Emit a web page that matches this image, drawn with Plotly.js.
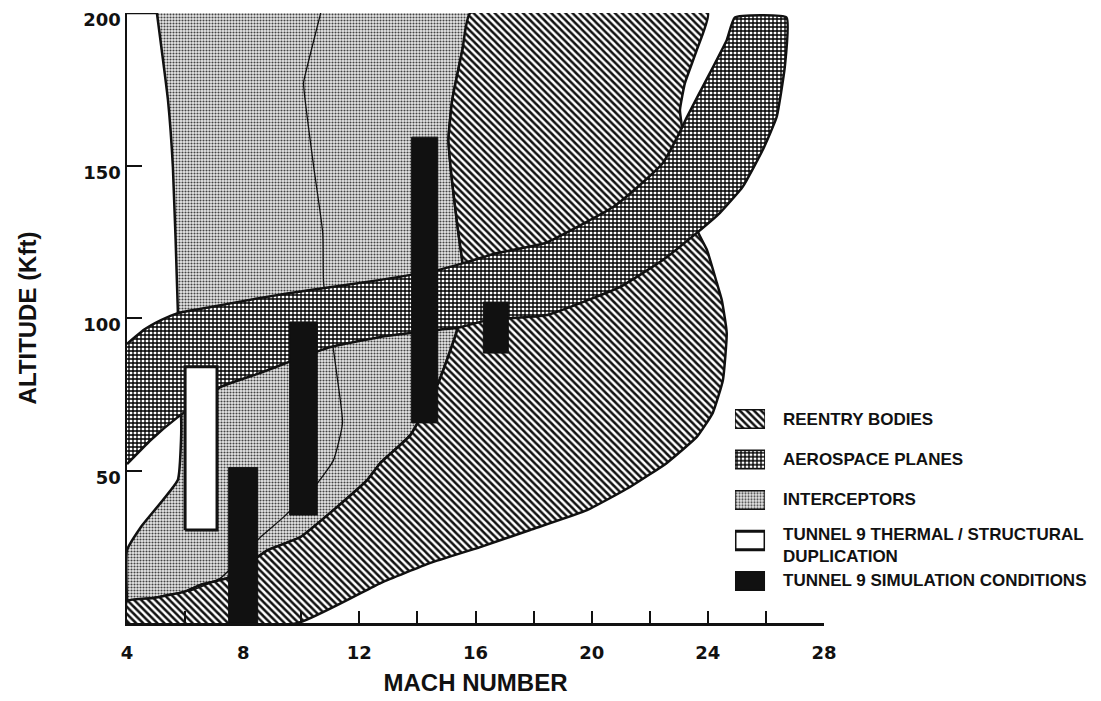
<!DOCTYPE html>
<html>
<head>
<meta charset="utf-8">
<script src="https://cdn.plot.ly/plotly-3.0.1.min.js"></script>
<style>html,body{margin:0;padding:0;background:#fff}#chart{width:1101px;height:701px}</style>
</head>
<body>
<div id="chart"></div>
<script>
// ---- DATA (Mach number, altitude in Kft) ----
// Boundary shared by the interceptors (left) and reentry bodies (right), top to bottom
const splitMach = [15.82, 15.55, 15.20, 15.07, 15.20, 15.41, 15.55, 15.48, 15.37, 14.69, 13.76, 12.73, 12.28, 11.11, 9.98, 8.85, 8.36, 7.47, 6.54, 5.96, 4.93, 4.0];
const splitAlt  = [200, 187.9, 171.5, 158.4, 144.3, 127.9, 118.0, 105.9, 96.1, 78.0, 61.6, 52.5, 46.9, 37.0, 28.2, 23.9, 20.7, 14.8, 12.5, 10.2, 8.2, 7.2];

// Left edge of the interceptors region, bottom to top
const interceptorLeftMach = [4.0, 4.0, 4.48, 5.75, 5.86, 5.86, 5.75, 5.75, 5.58, 5.41, 5.03];
const interceptorLeftAlt  = [7.2, 23.9, 31.5, 46.9, 60.0, 68.2, 79.7, 102.6, 149.5, 171.5, 200];

// Thin divider line inside the interceptors region
const dividerMach = [10.67, 10.15, 10.08, 10.43, 10.74, 10.77, 11.11, 11.25, 11.42, 11.11, 10.56, 9.40, 8.60, 7.92, 7.23, 6.10];
const dividerAlt  = [200, 180.3, 177.0, 149.5, 127.9, 111.5, 89.5, 79.7, 65.6, 53.4, 45.9, 34.8, 28.2, 21.3, 14.8, 10.2];

// Outer edge of the reentry bodies region, clockwise from the top
const reentryOuterMach = [15.82, 24.0, 23.62, 23.21, 23.04, 23.11, 23.38, 23.66, 23.97, 24.31, 24.48, 24.65, 24.52, 24.17, 23.62, 22.59, 21.32, 19.84, 17.88, 16.16, 14.45, 12.73, 9.88, 4.0];
const reentryOuterAlt  = [200, 200, 187.9, 177.0, 168.2, 162.6, 145.2, 128.2, 122.3, 111.5, 105.9, 95.1, 79.7, 68.9, 61.0, 52.5, 44.6, 37.0, 30.5, 24.9, 19.7, 13.1, 0, 0];

// Aerospace planes corridor: upper edge (left to right), lower edge (right to left)
const bandUpperMach = [4.0, 4.58, 5.17, 5.75, 6.89, 8.60, 10.32, 12.73, 14.69, 15.58, 16.75, 18.40, 20.74, 21.66, 22.45, 23.07, 23.28, 24.07, 24.65, 24.93];
const bandUpperAlt  = [91.5, 96.1, 99.3, 101.6, 103.6, 106.6, 109.2, 112.5, 115.7, 118.0, 121.3, 124.6, 136.4, 143.6, 150.8, 161.6, 165.9, 180.3, 191.1, 198.5];
const bandLowerMach = [26.71, 26.65, 26.37, 25.89, 25.20, 24.41, 23.62, 22.45, 20.98, 18.47, 16.41, 15.48, 14.69, 12.73, 11.01, 9.74, 8.60, 7.23, 5.75, 4.82, 4.0];
const bandLowerAlt  = [198.5, 182.3, 165.9, 155.1, 143.0, 134.4, 127.9, 119.0, 110.2, 101.0, 99.3, 97.0, 96.1, 93.8, 90.5, 86.2, 82.0, 77.4, 67.5, 60.0, 52.1];

// Tunnel 9 thermal / structural duplication box
const thermalMach = [6.0, 7.1];
const thermalAlt  = [30.5, 84.0];

// Tunnel 9 simulation conditions (black bars)
const simMachLow  = [7.5, 9.6, 13.8, 16.27];
const simMachHigh = [8.5, 10.55, 14.7, 17.13];
const simAltLow   = [0, 35.4, 65.6, 88.5];
const simAltHigh  = [51.0, 98.7, 159.3, 105.2];

const legendLabels = ['REENTRY BODIES', 'AEROSPACE PLANES', 'INTERCEPTORS',
  'TUNNEL 9 THERMAL / STRUCTURAL<br>DUPLICATION', 'TUNNEL 9 SIMULATION CONDITIONS'];
const machTicks = [4, 8, 12, 16, 20, 24, 28];
const altTicks = [50, 100, 150, 200];

// ---- styles ----
const INK = '#111';
const TICKFONT = 'DejaVu Sans';
const TEXTFONT = 'Liberation Sans, Arial, sans-serif';
const STYLE = {
  reentry:      {fillcolor: '#888', pattern: {shape: '\\', size: 5, solidity: 0.5, fgcolor: INK, bgcolor: '#fff', fillmode: 'replace'}, lw: 2.5},
  aerospace:    {fillcolor: '#777', pattern: {shape: '+', size: 4, solidity: 0.55, fgcolor: '#000', bgcolor: '#fff', fillmode: 'replace'}, lw: 2.5},
  interceptors: {fillcolor: '#d0d0d0', pattern: {shape: '.', size: 3, solidity: 0.4, fgcolor: '#444', bgcolor: '#e8e8e8', fillmode: 'replace'}, lw: 2.5},
  thermal:      {fillcolor: '#fff', pattern: null, lw: 3},
  sim:          {fillcolor: INK, pattern: null, lw: 1}
};
const legendStyles = [STYLE.reentry, STYLE.aerospace, STYLE.interceptors, STYLE.thermal, STYLE.sim];

// ---- build polygons from the arrays ----
function rev(a) { return a.slice().reverse(); }
function rects(lx, hx, ly, hy) {
  const xs = [], ys = [];
  for (let i = 0; i < lx.length; i++) {
    if (i > 0) { xs.push(null); ys.push(null); }
    xs.push(lx[i], hx[i], hx[i], lx[i], lx[i]);
    ys.push(ly[i], ly[i], hy[i], hy[i], ly[i]);
  }
  return {x: xs, y: ys};
}
function region(x, y, st, extra) {
  const t = {type: 'scatter', mode: 'lines', fill: 'toself', x: x, y: y,
    line: {color: INK, width: st.lw}, fillcolor: st.fillcolor, showlegend: false, hoverinfo: 'skip'};
  if (st.pattern) t.fillpattern = st.pattern;
  return Object.assign(t, extra || {});
}
const smooth = {line: {color: INK, width: 2.5, shape: 'spline', smoothing: 0.4}};

const interceptors = region(splitMach.concat(interceptorLeftMach), splitAlt.concat(interceptorLeftAlt), STYLE.interceptors, smooth);
const divider = {type: 'scatter', mode: 'lines', x: dividerMach, y: dividerAlt,
  line: {color: INK, width: 1.3, shape: 'spline', smoothing: 0.5}, showlegend: false, hoverinfo: 'skip'};
const reentry = region(reentryOuterMach.concat(rev(splitMach)), reentryOuterAlt.concat(rev(splitAlt)), STYLE.reentry, smooth);
const band = region(bandUpperMach.concat(bandLowerMach), bandUpperAlt.concat(bandLowerAlt), STYLE.aerospace, smooth);
const th = rects([thermalMach[0]], [thermalMach[1]], [thermalAlt[0]], [thermalAlt[1]]);
const thermal = region(th.x, th.y, STYLE.thermal);
const sr = rects(simMachLow, simMachHigh, simAltLow, simAltHigh);
const sim = region(sr.x, sr.y, STYLE.sim);

// legend swatches on their own small axes (one row per legend label)
const swatches = legendLabels.map((lab, i) => {
  const r = rects([0], [1], [i - 0.23], [i + 0.23]);
  const st = legendStyles[i];
  return region(r.x, r.y, Object.assign({}, st, {lw: i === 3 ? 3 : 1.5}), {xaxis: 'x2', yaxis: 'y2'});
});

const annotations = legendLabels.map((t, i) => ({
  xref: 'paper', yref: 'y2', x: 0.9385, y: i, text: t, xanchor: 'left', yanchor: 'middle', align: 'left',
  yshift: i === 3 ? -5 : 0,
  showarrow: false, font: {family: TEXTFONT, size: 17, color: INK, weight: 'bold'}
}));

const layout = {
  width: 1101, height: 701,
  margin: {l: 127, r: 277, t: 13, b: 78},
  paper_bgcolor: '#fff', plot_bgcolor: 'rgba(0,0,0,0)',
  showlegend: false, hovermode: false,
  xaxis: {
    range: [4, 28], tickvals: machTicks, ticks: 'inside', ticklen: 12, tickwidth: 2, tickcolor: INK,
    minor: {dtick: 2, tick0: 4, ticks: 'inside', ticklen: 12, tickwidth: 2, tickcolor: INK},
    showline: true, linewidth: 2.5, linecolor: INK, showgrid: false, zeroline: false,
    ticklabelstandoff: 12,
    tickfont: {family: TICKFONT, size: 18, color: INK, weight: 'bold'},
    title: {text: 'MACH NUMBER', standoff: 12, font: {family: TEXTFONT, size: 24, color: INK, weight: 'bold'}}
  },
  yaxis: {
    range: [0, 200], tickvals: altTicks, ticks: 'inside', ticklen: 15, tickwidth: 2, tickcolor: INK,
    showline: true, linewidth: 2.5, linecolor: INK, showgrid: false, zeroline: false,
    ticklabelshift: 7,
    tickfont: {family: TICKFONT, size: 18, color: INK, weight: 'bold'},
    title: {text: 'ALTITUDE (Kft)', standoff: 40, font: {family: TEXTFONT, size: 24, color: INK, weight: 'bold'}}
  },
  xaxis2: {domain: [0.8723, 0.9154], range: [0, 1], visible: false, fixedrange: true, anchor: 'y2'},
  yaxis2: {domain: [0.0357, 0.3676], range: [4.5, -0.5], visible: false, fixedrange: true, anchor: 'x2'},
  shapes: [{type: 'line', xref: 'x', yref: 'y', x0: 4, x1: interceptorLeftMach[interceptorLeftMach.length - 1],
    y0: 200, y1: 200, line: {color: INK, width: 2.5}}],
  annotations: annotations
};

Plotly.newPlot('chart', [interceptors, reentry, divider, band, thermal, sim].concat(swatches), layout,
  {displayModeBar: false, staticPlot: true});
</script>
</body>
</html>
